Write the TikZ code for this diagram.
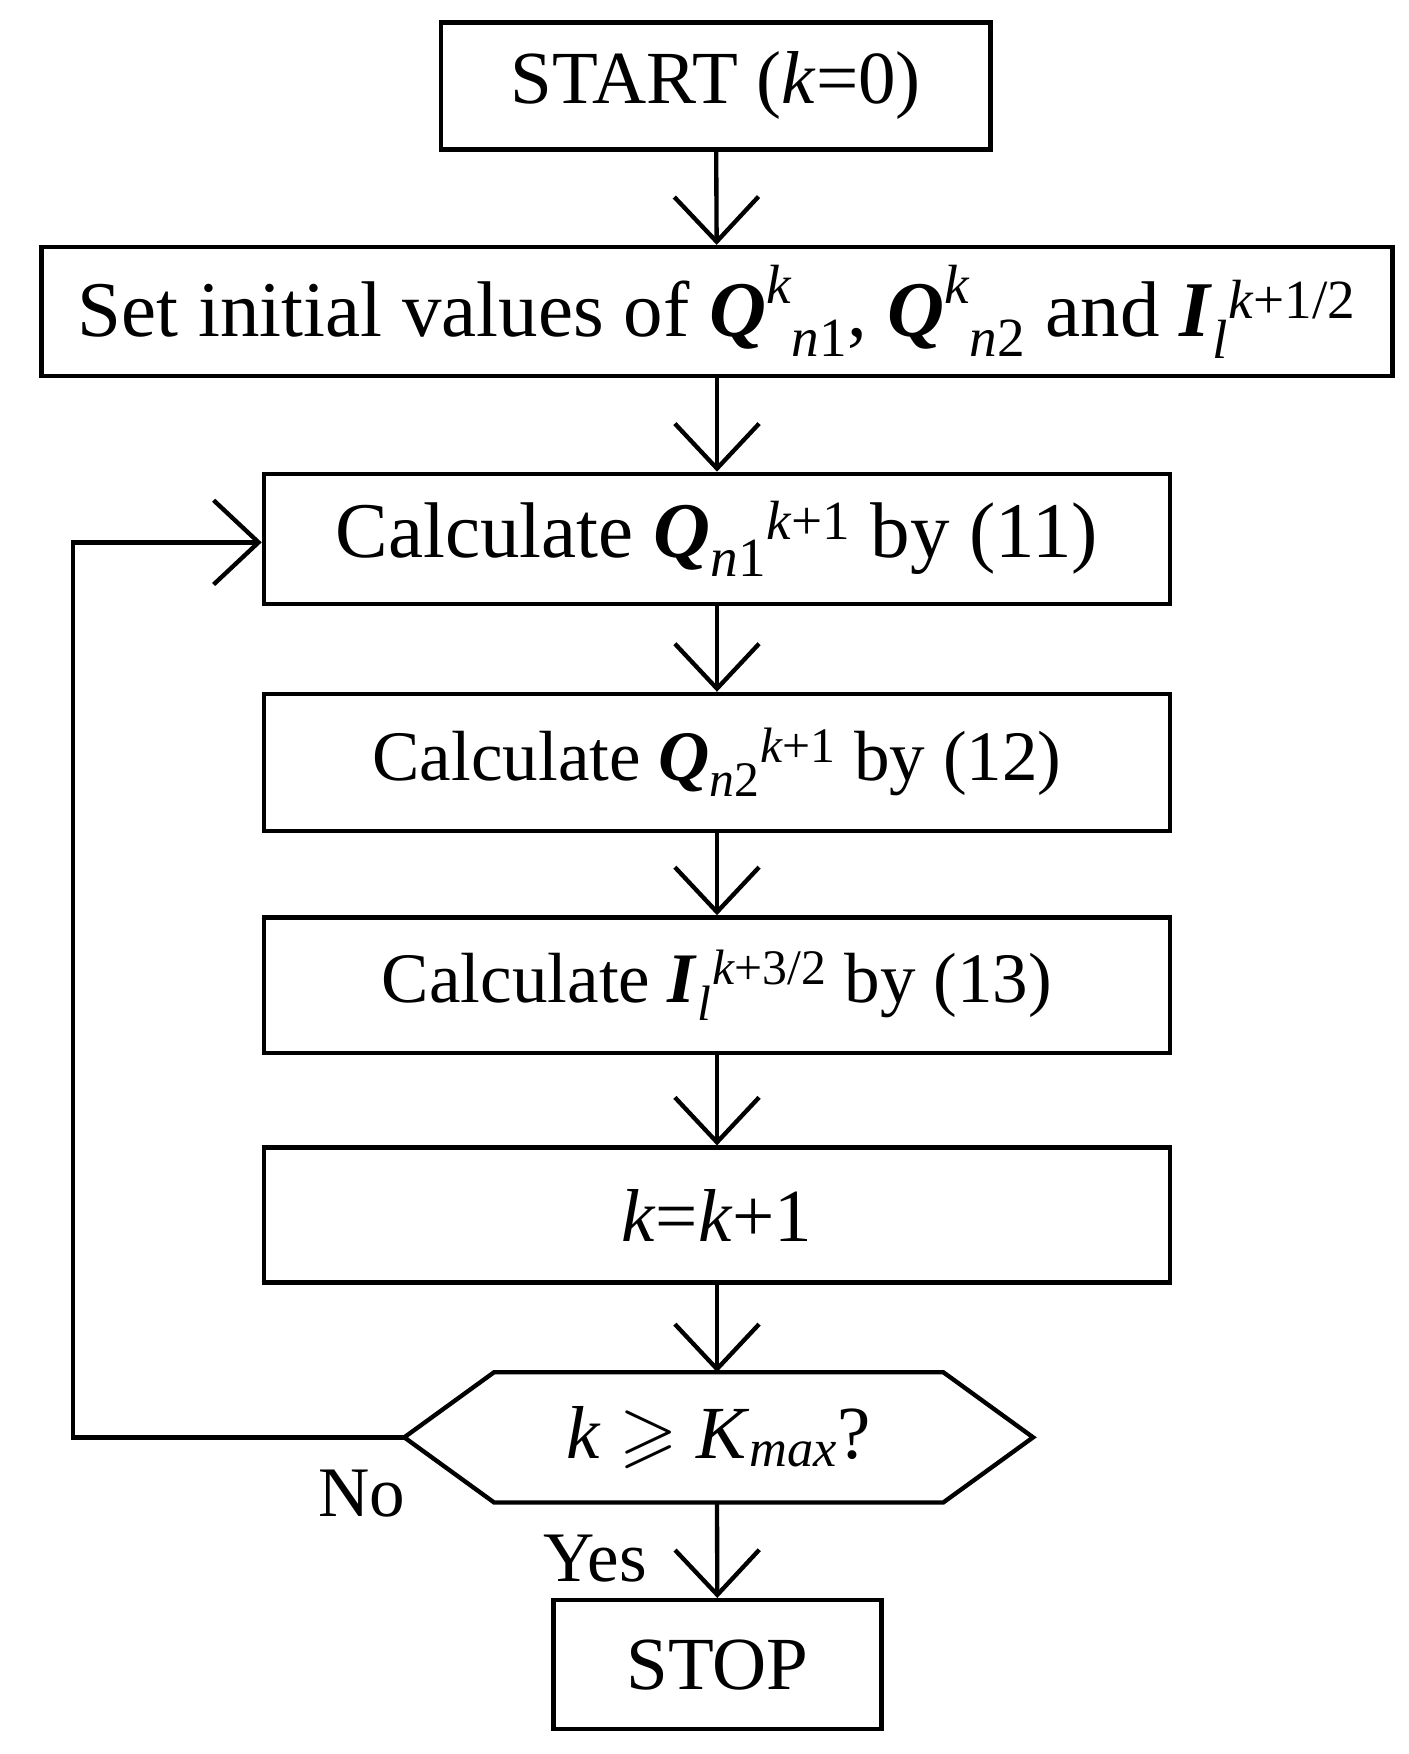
\documentclass[tikz,border=0pt]{standalone}
\usepackage{amsmath,amssymb}
\usepackage{fontspec}
\setmainfont{Liberation Serif}
\usetikzlibrary{arrows.meta, positioning}
\newcommand{\bq}{\textbf{\textit{Q}}}
\newcommand{\bi}{\textbf{\textit{I}}}
\begin{document}
\begin{tikzpicture}
    % Block styles
    \tikzset{block/.style={rectangle, draw, line width=2.2pt, text centered, minimum width=16.14cm, minimum height=2.4cm},
             flow/.style={line width=2.2pt, -{Straight Barb[length=8mm, width=15mm, line width=2.2pt]}}}
    \useasboundingbox (0,0) rectangle (25.08,-31.24);
    \node[block, minimum width=9.78cm, minimum height=2.26cm, font=\fontsize{38}{44}\selectfont] (start) at (12.75,-1.53) {START (\textit{k}=0)};
    \node[block, minimum width=24.06cm, minimum height=2.3cm, font=\fontsize{40}{48}\selectfont] (init) at (12.77,-5.55)
        {Set initial values of $\bq^{\textit{k}}{}_{\textit{n}\text{1}}$, $\bq^{\textit{k}}{}_{\textit{n}\text{2}}$ and $\bi_{\textit{l}}{}^{\textit{k}\text{+1/2}}$};
    \node[block, minimum height=2.32cm, font=\fontsize{40}{48}\selectfont] (calc1) at (12.77,-9.6)
        {Calculate $\bq_{\textit{n}\text{1}}{}^{\textit{k}\text{+1}}$ by (11)};
    \node[block, minimum height=2.44cm, font=\fontsize{36}{44}\selectfont] (calc2) at (12.77,-13.58)
        {Calculate $\bq_{\textit{n}\text{2}}{}^{\textit{k}\text{+1}}$ by (12)};
    \node[block, minimum height=2.42cm, font=\fontsize{36}{44}\selectfont] (calc3) at (12.77,-17.55)
        {Calculate $\bi_{\textit{l}}{}^{\textit{k}\text{+3/2}}$ by (13)};
    \node[block, font=\fontsize{38}{44}\selectfont] (incr) at (12.77,-21.64) {\textit{k}=\textit{k}+1};
    % Decision
    \coordinate (hexL) at (7.2,-25.6);
    \coordinate (hexR) at (18.4,-25.6);
    \coordinate (hexT) at (12.77,-24.44);
    \coordinate (hexB) at (12.77,-26.76);
    \draw[line width=2.2pt] (hexL) -- (8.8,-24.44) -- (16.8,-24.44) -- (hexR) -- (16.8,-26.76) -- (8.8,-26.76) -- cycle;
    \node[font=\fontsize{38}{44}\selectfont] (check) at (12.8,-25.6) {\textit{k} $\geqslant$ \textit{K}$_{\textit{max}}$?};
    \node[block, minimum width=5.84cm, minimum height=2.3cm, font=\fontsize{38}{44}\selectfont] (stop) at (12.78,-29.65) {STOP};
    % Connections
    \draw[flow] (start) -- (init);
    \draw[flow] (init) -- (calc1);
    \draw[flow] (calc1) -- (calc2);
    \draw[flow] (calc2) -- (calc3);
    \draw[flow] (calc3) -- (incr);
    \draw[flow] (incr) -- (hexT);
    \draw[flow] (hexB) -- (stop);
    \draw[flow] (hexL) -- (1.3,-25.6) -- (1.3,-9.66) -- (calc1.west |- 0,-9.66);
    \node[font=\fontsize{36}{44}\selectfont] (no) at (6.44,-26.6) {No};
    \node[font=\fontsize{36}{44}\selectfont] (yes) at (10.6,-27.76) {Yes};
\end{tikzpicture}
\end{document}
